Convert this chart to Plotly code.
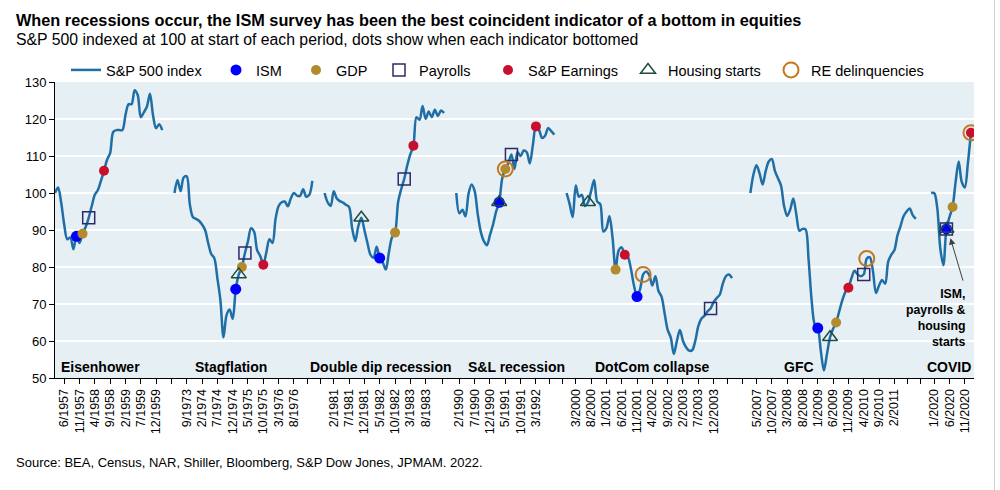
import plotly.graph_objects as go

# ---------------- data ----------------
periods = ["Eisenhower", "Stagflation", "Double dip recession", "S&L recession",
           "DotCom collapse", "GFC", "COVID"]
period_start_month = ["3/1957", "5/1973", "11/1980", "1/1990", "12/1999", "3/2007", "12/2019"]
blank_slots_before = [0, 3, 3, 3, 3, 5, 4]

eisenhower = [100, 101.5, 97.5, 91.5, 87.5, 88, 84.8, 88.3, 86.5, 89, 90.8, 93.3, 96.5, 99.5,
              100.8, 103.3, 106, 109, 110.8, 116.5, 117, 117, 117, 121, 124, 124, 127.8, 126.5,
              120.5, 121.8, 123.3, 126.8, 121, 117.5, 118.6, 117]
stagflation = [100, 103.5, 100.5, 104.2, 104.5, 97, 93.5, 93, 92.5, 91.5, 90, 86.5, 83.5, 82.4,
               77, 71, 61, 67, 68.5, 66, 74, 78, 80, 83.8, 87, 90.5, 89.5, 84.5, 83, 80.6, 84,
               87.5, 86.5, 93, 96.5, 97.5, 97.7, 96.4, 98.6, 100, 99.3, 99.2, 101, 99, 99.5, 103.3]
double_dip = [100, 97.5, 96.5, 100.5, 98.5, 97.8, 97.4, 96.8, 96.2, 90.5, 87, 91, 93.3, 90,
              86.5, 83.3, 82.5, 85.5, 82.4, 81.2, 79.3, 84, 88, 89.3, 97.5, 101, 103.8, 107.5,
              110.5, 112.8, 120.5, 119.8, 123.5, 120, 122, 120.5, 122.5, 120.8, 122.3, 121.6]
sl_recession = [100, 94.5, 95.5, 93.7, 99.8, 102.3, 100.5, 94.3, 89.5, 87, 85.9, 88.7, 91.5, 95,
                97.5, 104, 106.5, 108.1, 110.4, 106.5, 111, 110, 111.5, 111, 108, 113, 118,
                117.1, 114.9, 115.5, 117.6, 116.7, 115.8]
dotcom = [100, 97, 93.5, 102, 99, 99.5, 96.5, 97.5, 100.5, 103.5, 97.7, 97, 89.6, 90.5, 93.7,
          88, 79.3, 84.5, 85.3, 83.3, 82.8, 79.5, 75, 72, 74, 78, 78.8, 77.8, 75, 77.5, 73.5, 72,
          67.5, 63, 61, 56.5, 60, 63, 60, 58.3, 57.4, 57.5, 60, 64, 66, 66.8, 68, 68.8, 70.5,
          71.6, 72.5, 75.5, 77.5, 78, 77]
gfc = [100, 105, 107.5, 105.3, 102.3, 105.9, 108.5, 109.2, 106, 104, 102, 96.5, 93.8, 95.5,
       98.5, 94.2, 89.8, 90.3, 90.2, 82, 71, 64.5, 63.5, 57.3, 52, 56.5, 61, 63.3, 65, 68, 71,
       73.2, 74.4, 77, 79, 78, 77.5, 78, 82.3, 82.6, 79, 73, 75, 76.5, 75.5, 81.5, 83.3, 84.5,
       88.5, 91, 93.7, 95, 95.8, 94, 93]
covid = [100, 100, 96, 85, 80.5, 90.3, 93.5, 96.2, 103, 108.5, 103, 101.5, 108, 116.3]
series = [eisenhower, stagflation, double_dip, sl_recession, dotcom, gfc, covid]

# month at which each indicator bottomed (dot placed on the S&P line at that month)
ism_months = ["10/1957", "1/1975", "5/1982", "3/1991", "11/2001", "1/2009", "5/2020"]
gdp_months = ["12/1957", "3/1975", "10/1982", "5/1991", "4/2001", "7/2009", "7/2020"]
payroll_months = ["2/1958", "4/1975", "1/1983", "7/1991", "11/2003", "4/2010", "5/2020"]
earnings_months = ["7/1958", "10/1975", "4/1983", "3/1992", "7/2001", "11/2009", "1/2021"]
housing_months = ["2/1975", "11/1981", "3/1991", "7/2000", "5/2009", "5/2020"]
re_delinq_months = ["5/1991", "1/2002", "5/2010", "1/2021"]

tick_labels = ["6/1957", "11/1957", "4/1958", "9/1958", "2/1959", "7/1959", "12/1959",
               "9/1973", "2/1974", "7/1974", "12/1974", "5/1975", "10/1975", "3/1976", "8/1976",
               "2/1981", "7/1981", "12/1981", "5/1982", "10/1982", "3/1983", "8/1983",
               "2/1990", "7/1990", "12/1990", "5/1991", "10/1991", "3/1992",
               "3/2000", "8/2000", "1/2001", "6/2001", "11/2001", "4/2002", "9/2002", "2/2003",
               "7/2003", "12/2003",
               "5/2007", "10/2007", "3/2008", "8/2008", "1/2009", "6/2009", "11/2009", "4/2010",
               "9/2010", "2/2011",
               "1/2020", "6/2020", "11/2020"]


# ---------------- build category positions ----------------
def add_months(m, k):
    mo, yr = map(int, m.split("/"))
    t = yr * 12 + (mo - 1) + k
    return f"{t % 12 + 1}/{t // 12}"


pos = {}
value_at = {}
period_x = []
cursor = 0
for p, start, gap, vals in zip(periods, period_start_month, blank_slots_before, series):
    cursor += gap
    xs = []
    for k, v in enumerate(vals):
        m = add_months(start, k)
        pos[m] = cursor
        value_at[m] = v
        xs.append(cursor)
        cursor += 1
    period_x.append(xs)
n_slots = cursor

line_x, line_y = [], []
for xs, vals in zip(period_x, series):
    line_x += xs + [None]
    line_y += list(vals) + [None]

L, R, T, B = 55, 26, 82, 112
W, H = 1000, 490
pw, ph = W - L - R, H - T - B


def px_x(px):
    return (px - L) / pw


def px_y(py):
    return (H - B - py) / ph


FONT = "Liberation Sans, Arial, sans-serif"
fig = go.Figure()
fig.add_trace(go.Scatter(x=line_x, y=line_y, mode="lines", name="S&P 500 index",
                         line=dict(color="#1F6EA6", width=2.5, shape="spline", smoothing=0.9),
                         connectgaps=False, hoverinfo="skip", legend="legend"))

legend_names = ["legend"]


def add_markers(months, name, symbol, color, size, lw=0):
    lg = f"legend{len(legend_names) + 1}"
    legend_names.append(lg)
    fig.add_trace(go.Scatter(
        x=[pos[m] for m in months], y=[value_at[m] for m in months],
        mode="markers", name=name, legend=lg,
        marker=dict(symbol=symbol, color=color, size=size,
                    line=dict(width=lw, color=color))))


add_markers(ism_months, "ISM", "circle", "#0000FF", 11)
add_markers(gdp_months, "GDP", "circle", "#B38B2D", 10)
add_markers(payroll_months, "Payrolls", "square-open", "#2B2A6B", 12, 1.5)
add_markers(earnings_months, "S&P Earnings", "circle", "#C8102E", 10)
add_markers(housing_months, "Housing starts", "triangle-up-open", "#1E4D3F", 13, 1.5)
add_markers(re_delinq_months, "RE delinquencies", "circle-open", "#C4781F", 15, 2)

# ticks: labels plus unlabeled ticks inside gaps
label_pos = [pos[t] for t in tick_labels]
tickvals, ticktext = [], []
for i, (lp, lt) in enumerate(zip(label_pos, tick_labels)):
    tickvals.append(lp)
    ticktext.append(lt)
    if i + 1 < len(label_pos):
        d = label_pos[i + 1] - lp
        if d > 6:
            n = round(d / 5) - 1
            for j in range(1, n + 1):
                tickvals.append(lp + d * j / (n + 1))
                ticktext.append("")

annotations = [
    dict(text="<b>When recessions occur, the ISM survey has been the best coincident indicator of a bottom in equities</b>",
         x=px_x(14), y=px_y(20), xref="paper", yref="paper", xanchor="left", yanchor="middle",
         showarrow=False, font=dict(size=16.3, color="black", family=FONT)),
    dict(text="S&P 500 indexed at 100 at start of each period, dots show when each indicator bottomed",
         x=px_x(14), y=px_y(39), xref="paper", yref="paper", xanchor="left", yanchor="middle",
         showarrow=False, font=dict(size=15.8, color="black", family=FONT)),
    dict(text="Source: BEA, Census, NAR, Shiller, Bloomberg, S&P Dow Jones, JPMAM. 2022.",
         x=px_x(14), y=px_y(462), xref="paper", yref="paper", xanchor="left", yanchor="middle",
         showarrow=False, font=dict(size=13, color="black", family=FONT)),
]
period_label_x = [14.7, 57.5, 106.4, 150.8, 194.9, 242.9, 299.6]
for name, lx in zip(periods, period_label_x):
    annotations.append(dict(text=f"<b>{name}</b>", x=lx, y=53, xref="x", yref="y",
                            xanchor="right" if name == "COVID" else "center", yanchor="middle",
                            showarrow=False, font=dict(size=14, color="black", family=FONT)))
annotations.append(dict(text="<b>ISM,<br>payrolls &amp;<br>housing<br>starts</b>", x=298, y=66.3,
                        xref="x", yref="y", xanchor="right", yanchor="middle", align="right",
                        showarrow=False, font=dict(size=12.3, color="black", family=FONT)))
annotations.append(dict(text="", x=292.3, y=87.8, xref="x", yref="y", ax=13, ay=44,
                        showarrow=True, arrowhead=2, arrowsize=1.3, arrowwidth=1,
                        arrowcolor="#404040", standoff=0))

# one legend box per entry, placed like the reference's legend row
legend_left_px = [66, 216, 296, 379, 488, 628, 771]
legend_layout = {}
for lg, lx in zip(legend_names, legend_left_px):
    legend_layout[lg] = dict(orientation="h", x=px_x(lx), xanchor="left", y=px_y(70),
                             yanchor="middle", font=dict(size=14.5, family=FONT),
                             bgcolor="rgba(0,0,0,0)", itemwidth=30)

fig.update_layout(
    width=W, height=H,
    margin=dict(l=L, r=R, t=T, b=B),
    paper_bgcolor="white", plot_bgcolor="#E6EFF3",
    font=dict(family=FONT, color="black"),
    showlegend=True,
    xaxis=dict(range=[0, n_slots], tickmode="array", tickvals=tickvals, ticktext=ticktext,
               tickangle=-90, ticks="outside", ticklen=5, tickcolor="black", showline=True,
               linecolor="black", linewidth=1, showgrid=False, zeroline=False,
               tickfont=dict(size=12.5, family=FONT, color="black")),
    yaxis=dict(range=[50, 130], dtick=10, ticks="outside", ticklen=5, tickcolor="black",
               showline=True, linecolor="black", linewidth=1, showgrid=True,
               gridcolor="white", gridwidth=1.5, zeroline=False,
               tickfont=dict(size=13, family=FONT, color="black")),
    annotations=annotations,
    shapes=[dict(type="line", xref="paper", yref="paper", x0=px_x(994.5), x1=px_x(994.5),
                 y0=px_y(490), y1=px_y(0), line=dict(color="#D0D0D0", width=1))],
    **legend_layout,
)

fig.write_html("out.html", config={"displayModeBar": False},
               post_script="document.body.style.margin='0';")
